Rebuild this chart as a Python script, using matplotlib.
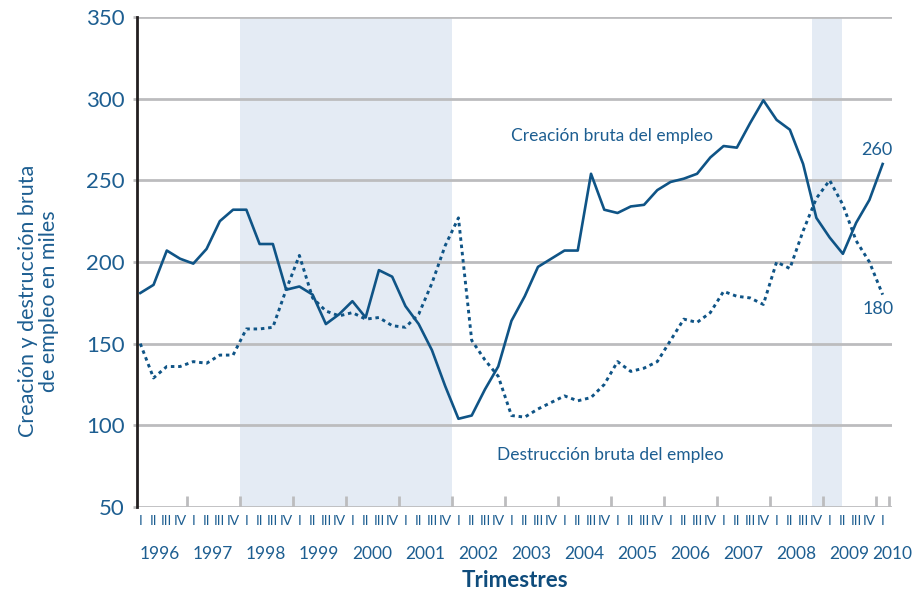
import matplotlib
matplotlib.use("Agg")
from matplotlib import pyplot as plt
from matplotlib import font_manager

plt.rcParams['font.family'] = ['Lato', 'DejaVu Sans']

years = [str(y) for y in range(1996, 2011)]
quarters = ['I', 'II', 'III', 'IV'] * 14 + ['I']

creacion = [181, 186, 207, 202, 199, 208, 225, 232, 232, 211, 211, 183,
            185, 180, 162, 168, 176, 166, 195, 191, 173, 162, 146, 124,
            104, 106, 122, 136, 164, 179, 197, 202, 207, 207, 254, 232,
            230, 234, 235, 244, 249, 251, 254, 264, 271, 270, 285, 299,
            287, 281, 260, 227, 215, 205, 224, 238, 260]
destruccion = [150, 129, 136, 136, 139, 138, 143, 143, 159, 159, 160, 183,
               204, 178, 170, 167, 169, 165, 166, 161, 160, 168, 187, 210,
               227, 152, 140, 130, 106, 105, 110, 114, 118, 115, 117, 125,
               139, 133, 135, 139, 152, 165, 163, 169, 182, 179, 178, 174,
               200, 196, 219, 239, 250, 235, 213, 200, 180]

# recesiones sombreadas (indices de trimestre)
sombras = [(7.5, 23.5), (50.7, 52.9)]

azul = '#0f5486'
texto = '#1d5e91'
gris = '#bcbcbe'

# fuente estrecha para los trimestres si existe
nombres = {f.name for f in font_manager.fontManager.ttflist}
estrecha = [n for n in ['Liberation Sans Narrow', 'DejaVu Sans Condensed'] if n in nombres] + ['Lato']

x = list(range(len(creacion)))

fig = plt.figure(figsize=(9.15, 5.94), dpi=100)
ax = fig.add_axes([0.1497, 0.1465, 0.8251, 0.8249])

for a, b in sombras:
    ax.axvspan(a, b, color='#e4ebf4', lw=0, zorder=0)

for v in range(50, 351, 50):
    ax.axhline(v, color=gris, lw=2, zorder=1)

# marcas de separacion de años
for k in range(14):
    ax.plot([3.5 + 4 * k] * 2, [50, 57], color=gris, lw=2, zorder=1, solid_capstyle='butt')
ax.plot([56.5] * 2, [50, 57], color=gris, lw=2, zorder=1, solid_capstyle='butt')

ax.plot(x, creacion, color=azul, lw=1.9, zorder=3)
ax.plot(x, destruccion, color=azul, lw=2.1, linestyle=(0, (1.2, 1.3)), zorder=3)

ax.set_xlim(-0.25, 56.5)
ax.set_ylim(50, 350)

for s in ['top', 'right', 'bottom']:
    ax.spines[s].set_visible(False)
ax.spines['left'].set_color('#231f20')
ax.spines['left'].set_linewidth(2)

ax.set_yticks(range(50, 351, 50))
ax.tick_params(axis='y', length=3, width=2, color=gris, pad=6, labelsize=16, labelcolor=texto)

ax.set_xticks(x, quarters)
ax.set_xticks([1.5 + 4 * k for k in range(14)] + [56.7], years, minor=True)
ax.tick_params(axis='x', which='major', length=0, pad=6, labelsize=10, labelcolor=texto)
ax.tick_params(axis='x', which='minor', length=0, pad=28, labelsize=12.5, labelcolor=texto)
for t in ax.get_xticklabels():
    t.set_family(estrecha)

ax.set_xlabel('Trimestres', fontsize=16, fontweight='bold', color='#0f4c7c', labelpad=6)
ax.set_ylabel('Creación y destrucción bruta\nde empleo en miles', fontsize=15.5, color=texto,
              linespacing=1.05)
ax.yaxis.set_label_coords(-0.103, 0.42)

ax.text(27.97, 277, 'Creación bruta del empleo', fontsize=12.5, color=texto, ha='left', va='center')
ax.text(26.9, 82, 'Destrucción bruta del empleo', fontsize=12.5, color=texto, ha='left', va='center')
ax.text(54.35, 268.5, '260', fontsize=13, color=texto, ha='left', va='center')
ax.text(54.5, 171, '180', fontsize=13, color=texto, ha='left', va='center')

fig.savefig('out.png', dpi=100)
